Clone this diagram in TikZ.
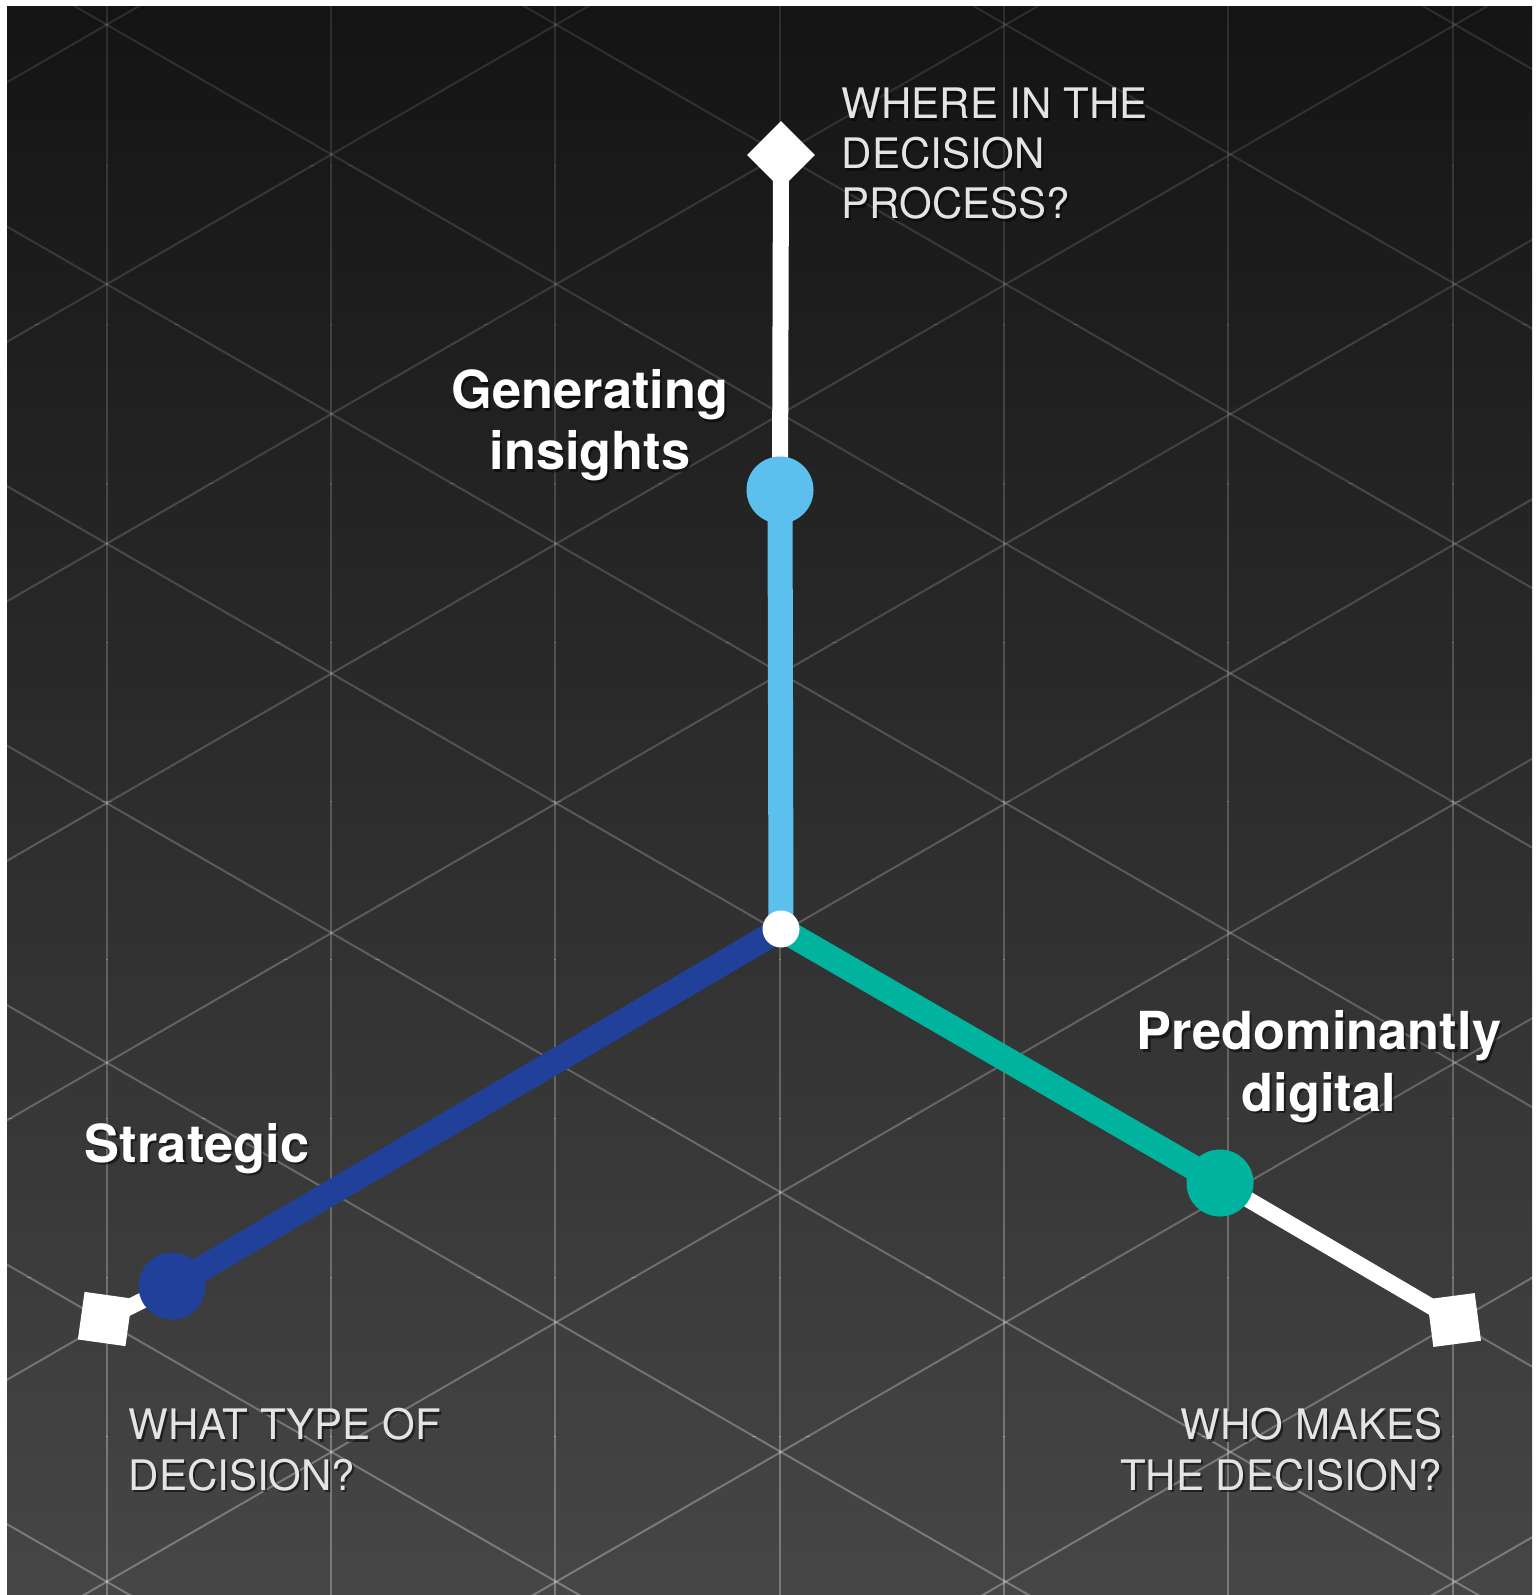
\documentclass[tikz,border=0pt]{standalone}
\usepackage{fontspec}
\setmainfont{TeX Gyre Heros}
\usetikzlibrary{backgrounds}
\definecolor{bgtop}{HTML}{141414}
\definecolor{bgbottom}{HTML}{464646}
\definecolor{insightblue}{HTML}{5BC0EE}
\definecolor{digitalgreen}{HTML}{00B39F}
\definecolor{strategyblue}{HTML}{21409A}
\definecolor{questiongray}{HTML}{E4E4E4}
% text with a soft drop shadow
\newcommand{\shadowlabel}[5]{%
  \node[#2,anchor=#3,text=black,text opacity=.5,xshift=.6pt,yshift=-.75pt] (#1-shadow) at (#4) {#5};
  \node[#2,anchor=#3] (#1) at (#4) {#5};}

\begin{document}
\begin{tikzpicture}[x=.01cm,y=-.01cm,
  gridline/.style={draw=white,line width=.02cm},
  axis/.style={draw=#1,line width=.25cm},
  stem/.style={draw=white,line width=.16cm},
  endmark/.style={fill=white,inner sep=0,minimum size=.48cm},
  dot/.style={circle,fill=#1,inner sep=0,minimum size=.67cm},
  question/.style={inner sep=0,text=questiongray,font=\fontsize{11.95}{14.3}\selectfont},
  answer/.style={inner sep=0,text=white,align=center,font=\fontsize{14.9}{17.4}\selectfont\bfseries}]
\useasboundingbox (0,0) rectangle (1535,1595);

\node[dot=white,minimum size=.37cm] (origin) at (781,929) {};
\node[dot=insightblue] (insight) at (780,490) {};
\node[dot=digitalgreen] (digital) at (1220,1183) {};
\node[dot=strategyblue] (strategic) at (172,1286) {};
\node[endmark,rotate=45] (where) at (781,155) {};
\node[endmark,rotate=-8] (what) at (105,1319) {};
\node[endmark,rotate=7.5] (who) at (1454,1320) {};

\begin{scope}[on background layer]
\fill[white] (0,0) rectangle (1535,1595);
\shade[top color=bgtop,bottom color=bgbottom] (7,7) rectangle (1532,1595);
% triangle grid, stronger towards the bottom
\foreach \band [evaluate=\band as \op using .11+.02*\band] in {0,...,9} {
  \begin{scope}[gridline,draw opacity=\op]
    \clip (7,{7+158.8*\band}) rectangle (1532,{7+158.8*(\band+1)});
    \foreach \col in {0,...,6}
      \draw ({106.7+224.3*\col},0) -- ++(0,1600);
    \foreach \m in {-4,...,10} {
      \draw (-1900,{24.7+259.5*\m-1158.6}) -- ++(4000,2309.4);
      \draw (-1900,{24.7+259.5*\m+1158.6}) -- ++(4000,-2309.4);
    }
  \end{scope}
}
\draw[stem] (where.center) -- (insight.center);
\draw[axis=insightblue] (insight.center) -- (origin.center);
\draw[stem] (who.center) -- (digital.center);
\draw[axis=digitalgreen] (digital.center) -- (origin.center);
\draw[stem] (what.center) -- (strategic.center);
\draw[axis=strategyblue] (strategic.center) -- (origin.center);
\end{scope}

\shadowlabel{where-q}{question,align=left}{base west}{841,219}{WHERE IN THE\\DECISION\\PROCESS?}
\shadowlabel{what-q}{question,align=left}{base west}{128,1490}{WHAT TYPE OF\\DECISION?}
\shadowlabel{who-q}{question,align=right}{base east}{1443,1490}{WHO MAKES\\THE DECISION?}
\shadowlabel{insight-a}{answer}{base}{590,470}{Generating\\insights}
\shadowlabel{digital-a}{answer}{base}{1319,1111}{Predominantly\\digital}
\shadowlabel{strategic-a}{answer}{base}{197,1162}{Strategic}
\end{tikzpicture}
\end{document}
